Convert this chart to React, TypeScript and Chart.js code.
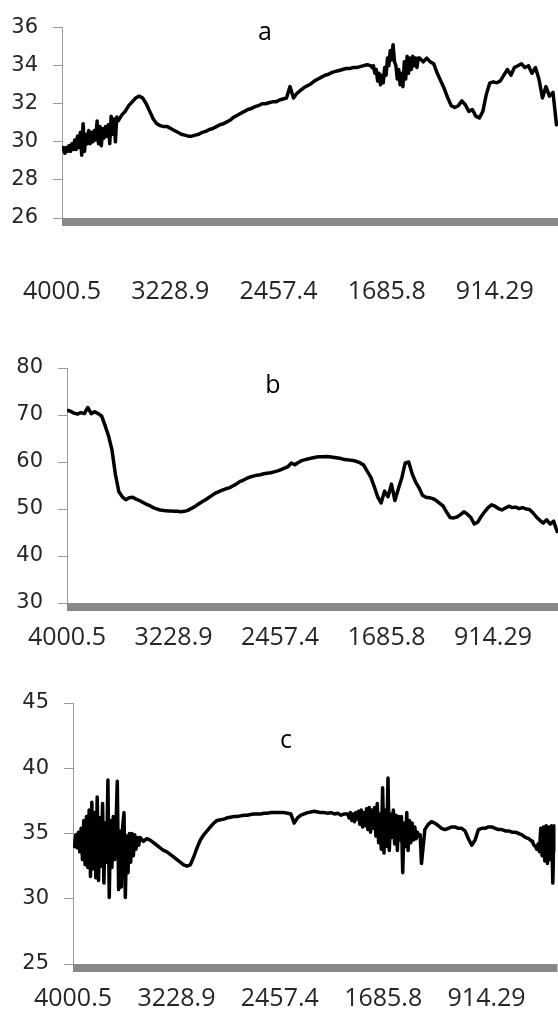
import React, { useEffect, useRef } from "react";
import { Chart, registerables } from "chart.js";

Chart.register(...registerables);

// ---------- Spectrum a ----------
const wavenumbersA = [
  4000, 3990, 3980, 3970, 3960, 3950, 3940, 3930, 3920, 3910, 3900, 3890, 3880, 3870, 3860, 3850,
  3840, 3830, 3820, 3810, 3800, 3790, 3780, 3770, 3760, 3750, 3740, 3730, 3720, 3710, 3700, 3690,
  3680, 3670, 3660, 3650, 3640, 3630, 3620, 3610,
  3600, 3575, 3550, 3525, 3500, 3475, 3450, 3425, 3400, 3375, 3350, 3325, 3300, 3275, 3250, 3225,
  3200, 3175, 3150, 3125, 3100, 3075, 3050, 3025, 3000, 2975, 2950, 2925, 2900, 2875, 2850, 2825,
  2800, 2775, 2750, 2725, 2700, 2675, 2650, 2625, 2600, 2575, 2550, 2525, 2500, 2475, 2450, 2425,
  2400, 2375, 2350, 2325, 2300, 2275, 2250, 2225, 2200, 2175, 2150, 2125, 2100, 2075, 2050, 2025,
  2000, 1975, 1950, 1925, 1900, 1875, 1850, 1825,
  1800, 1790, 1780, 1770, 1760, 1750, 1740, 1730, 1720, 1710, 1700, 1690, 1680, 1670, 1660, 1650,
  1640, 1630, 1620, 1610, 1600, 1590, 1580, 1570, 1560, 1550, 1540, 1530, 1520, 1510, 1500, 1490,
  1480, 1470, 1460,
  1450, 1425, 1400, 1375, 1350, 1325, 1300, 1275, 1250, 1225, 1200, 1175, 1150, 1125, 1100, 1075,
  1050, 1025, 1000, 975, 950, 925, 900, 875, 850, 825, 800, 775, 750, 725, 700, 675,
  650, 625, 600, 575, 550, 525, 500, 475, 450, 425, 400,
];
const seriesA = [
  29.5, 29.7, 29.4, 29.7, 29.5, 29.8, 29.5, 29.9, 29.6, 30.1,
  29.6, 30.3, 29.7, 30.5, 29.3, 30.95, 29.5, 30.4, 29.9, 30.6,
  29.9, 30.5, 30.0, 30.6, 30.1, 31.1, 29.9, 30.8, 29.8, 30.7,
  30.2, 30.8, 30.3, 30.9, 29.9, 31.35, 30.4, 31.2, 30.0, 31.3,
  31.1, 31.4, 31.6, 31.9,
  32.1, 32.3, 32.4, 32.3, 32.0, 31.6, 31.2, 30.95, 30.85, 30.8,
  30.8, 30.7, 30.6, 30.5, 30.4, 30.35, 30.3, 30.3, 30.35, 30.4,
  30.5, 30.55, 30.65, 30.7, 30.8, 30.9, 30.95, 31.05, 31.15, 31.3,
  31.4, 31.5, 31.6, 31.7, 31.75, 31.85, 31.9, 32.0, 32.0, 32.05,
  32.1, 32.1, 32.2, 32.25, 32.3, 32.9, 32.3, 32.55, 32.7, 32.85,
  32.95, 33.05, 33.2, 33.3, 33.4, 33.5, 33.55, 33.65, 33.7, 33.75,
  33.8, 33.85, 33.85, 33.9, 33.9, 33.95, 34.0, 34.05,
  34.0, 33.9, 34.0, 33.6, 33.8, 33.2, 33.6, 33.0, 33.5, 33.1,
  33.9, 33.5, 34.4, 34.0, 34.8, 34.3, 35.1, 34.2, 34.0, 33.3,
  33.8, 33.0, 33.6, 32.9, 34.2, 33.3, 34.5, 33.6, 34.4, 33.8,
  34.5, 34.0, 34.4, 33.9, 34.4,
  34.4, 34.2, 34.4, 34.2, 34.1, 33.6, 33.2, 32.8,
  32.3, 31.9, 31.8, 31.9, 32.15, 31.95, 31.6, 31.7, 31.35, 31.25,
  31.6, 32.5, 33.1, 33.15, 33.1, 33.2, 33.5, 33.8, 33.5, 33.9,
  34.0, 34.1, 33.9, 34.0, 33.6, 33.9, 33.3, 32.3, 32.9, 32.4,
  32.6, 30.9, 31.1, 31.0, 31.2,
];

// ---------- Spectrum b ----------
const wavenumbersB = [
  4000, 3975, 3950, 3925, 3900, 3875, 3850, 3825, 3800, 3775, 3750, 3725, 3700, 3675, 3650, 3625,
  3600, 3575, 3550, 3525, 3500, 3475, 3450, 3425, 3400, 3375, 3350, 3325, 3300, 3275, 3250, 3225,
  3200, 3175, 3150, 3125, 3100, 3075, 3050, 3025, 3000, 2975, 2950, 2925, 2900, 2875, 2850, 2825,
  2800, 2775, 2750, 2725, 2700, 2675, 2650, 2625, 2600, 2575, 2550, 2525, 2500, 2475, 2450, 2425,
  2400, 2375, 2350, 2325, 2300, 2275, 2250, 2225, 2200, 2175, 2150, 2125, 2100, 2075, 2050, 2025,
  2000, 1975, 1950, 1925, 1900, 1875, 1850, 1825, 1800, 1775, 1750, 1725, 1700, 1675, 1650, 1625,
  1600, 1575, 1550, 1525, 1500, 1475, 1450, 1425, 1400, 1375, 1350, 1325, 1300, 1275, 1250, 1225,
  1200, 1175, 1150, 1125, 1100, 1075, 1050, 1025, 1000, 975, 950, 925, 900, 875, 850, 825,
  800, 775, 750, 725, 700, 675, 650, 625, 600, 575, 550, 525, 500, 475, 450, 425, 400,
];
const seriesB = [
  71.0, 70.8, 70.4, 70.2, 70.5, 70.3, 71.6, 70.3, 70.7, 70.3,
  69.8, 67.8, 65.6, 62.6, 57.4, 53.7, 52.6, 52.0, 52.4, 52.5,
  52.1, 51.8, 51.4, 51.0, 50.7, 50.3, 50.0, 49.8, 49.7, 49.6,
  49.6, 49.5, 49.5, 49.4, 49.5, 49.7, 50.1, 50.5, 51.0, 51.5,
  51.9, 52.4, 52.9, 53.4, 53.7, 54.0, 54.3, 54.5, 54.9, 55.3,
  55.8, 56.1, 56.5, 56.8, 57.0, 57.2, 57.3, 57.5, 57.6, 57.7,
  57.9, 58.1, 58.4, 58.7, 59.0, 59.8, 59.4, 59.9, 60.3, 60.5,
  60.7, 60.85, 61.0, 61.1, 61.1, 61.15, 61.1, 61.0, 60.9, 60.8,
  60.6, 60.5, 60.4, 60.3, 60.1, 59.8, 59.3, 58.0, 56.8, 54.8,
  52.6, 51.3, 53.8, 52.6, 55.3, 51.8, 54.3, 56.6, 59.8, 60.0,
  57.5, 55.7, 54.5, 52.9, 52.5, 52.4, 52.2, 51.8, 51.2, 50.6,
  49.3, 48.2, 48.1, 48.3, 48.8, 49.4, 48.9, 48.2, 46.8, 47.2,
  48.4, 49.4, 50.3, 50.9, 50.6, 50.1, 49.8, 50.2, 50.6, 50.3,
  50.4, 50.1, 50.3, 50.0, 49.9, 49.2, 48.3, 47.6, 47.0, 47.7,
  46.8, 47.4, 45.2, 45.6, 45.3,
];

// ---------- Spectrum c ----------
const wavenumbersC = [
  4000, 3990, 3980, 3970, 3960, 3950, 3940, 3930, 3920, 3910, 3900, 3890, 3880, 3870, 3860, 3850,
  3840, 3830, 3820, 3810, 3800, 3790, 3780, 3770, 3760, 3750, 3740, 3730, 3720, 3710, 3700, 3690,
  3680, 3670, 3660, 3650, 3640, 3630, 3620, 3610, 3600, 3590, 3580, 3570, 3560, 3550, 3540, 3530,
  3520, 3510,
  3500, 3475, 3450, 3425, 3400, 3375, 3350, 3325, 3300, 3275, 3250, 3225, 3200, 3175, 3150, 3125,
  3100, 3075, 3050, 3025, 3000, 2975, 2950, 2925, 2900, 2875, 2850, 2825, 2800, 2775, 2750, 2725,
  2700, 2675, 2650, 2625, 2600, 2575, 2550, 2525, 2500, 2475, 2450, 2425, 2400, 2375, 2350, 2325,
  2300, 2275, 2250, 2225, 2200, 2175, 2150, 2125, 2100, 2075, 2050, 2025, 2000, 1975,
  1950, 1940, 1930, 1920, 1910, 1900, 1890, 1880, 1870, 1860, 1850, 1840, 1830, 1820, 1810, 1800,
  1790, 1780, 1770, 1760, 1750, 1740, 1730, 1720, 1710, 1700, 1690, 1680, 1670, 1660, 1650, 1640,
  1630, 1620, 1610, 1600, 1590, 1580, 1570, 1560, 1550, 1540, 1530, 1520, 1510, 1500, 1490, 1480,
  1470, 1460, 1450, 1440, 1430, 1420, 1410, 1400,
  1375, 1350, 1325, 1300, 1275, 1250, 1225, 1200, 1175, 1150, 1125, 1100, 1075, 1050, 1025, 1000,
  975, 950, 925, 900, 875, 850, 825, 800, 775, 750, 725, 700, 675, 650, 625, 600, 575,
  570, 560, 550, 540, 530, 520, 510, 500, 490, 480, 470, 460, 450, 440, 430, 420, 410, 400,
];
const seriesC = [
  34.3, 34.0, 34.9, 33.9, 35.1, 33.6, 35.4, 33.0, 36.0, 32.6,
  36.3, 32.4, 36.8, 31.7, 37.4, 32.3, 36.6, 31.6, 37.8, 31.4,
  36.2, 32.5, 37.3, 31.2, 35.8, 32.8, 39.1, 30.1, 36.0, 32.4,
  36.3, 33.0, 35.5, 39.0, 30.7, 35.2, 30.9, 35.5, 36.6, 30.1,
  34.8, 32.0, 35.0, 32.8, 35.0, 33.3, 34.9, 33.8, 34.7, 34.1,
  34.7, 34.4, 34.6, 34.5, 34.3, 34.1, 33.9, 33.7, 33.6, 33.4,
  33.2, 33.0, 32.8, 32.6, 32.5, 32.6, 33.2, 33.9, 34.5, 34.9,
  35.2, 35.5, 35.8, 36.0, 36.05, 36.1, 36.2, 36.25, 36.3, 36.3,
  36.35, 36.4, 36.4, 36.45, 36.5, 36.5, 36.5, 36.55, 36.55, 36.6,
  36.6, 36.6, 36.6, 36.6, 36.55, 36.5, 35.8, 36.2, 36.4, 36.5,
  36.6, 36.65, 36.7, 36.65, 36.6, 36.6, 36.55, 36.6, 36.5, 36.55,
  36.4, 36.5,
  36.5, 36.2, 36.6, 36.0, 36.5, 35.9, 36.6, 36.1, 36.7, 35.7,
  36.8, 35.5, 36.6, 35.6, 36.9, 35.3, 37.0, 35.1, 36.8, 35.4,
  37.0, 34.8, 37.3, 34.3, 36.5, 33.8, 38.5, 33.5, 36.8, 34.0,
  39.25, 33.7, 36.5, 34.7, 36.8, 34.2, 36.4, 33.7, 36.3, 34.5,
  36.3, 32.0, 35.8, 34.0, 36.6, 33.7, 36.0, 34.3, 35.8, 34.5,
  35.5, 34.6, 35.1, 34.8, 34.9, 32.7,
  35.3, 35.7, 35.9, 35.8, 35.6,
  35.4, 35.3, 35.4, 35.5, 35.5, 35.4, 35.4, 35.2, 34.6, 34.1,
  34.5, 35.3, 35.4, 35.4, 35.5, 35.5, 35.4, 35.3, 35.3, 35.2,
  35.2, 35.1, 35.1, 35.0, 34.9, 34.7, 34.6, 34.4,
  34.3, 34.1, 34.0, 33.8, 34.2, 33.6, 35.4, 33.3, 35.5, 32.9,
  35.6, 32.7, 35.5, 33.0, 35.6, 31.2, 35.6, 33.6,
];

const xTickValues = [4000.5, 3228.9, 2457.4, 1685.8, 914.29];
const xTickLabels = ["4000.5", "3228.9", "2457.4", "1685.8", "914.29"];
const panelLetters = ["a", "b", "c"];
const yMins = [26, 30, 25];
const yMaxs = [36, 80, 45];
const ySteps = [2, 10, 5];

// Layout (pixels) for each panel
const panelLayouts = [
  { top: 0, height: 330, axisLeft: 62, plotTop: 20, plotBottom: 218, plotRight: 567, labelGap: 59, letterX: 265, letterY: 40 },
  { top: 330, height: 340, axisLeft: 67, plotTop: 38, plotBottom: 273, plotRight: 564, labelGap: 20, letterX: 273, letterY: 63 },
  { top: 670, height: 340, axisLeft: 73, plotTop: 33, plotBottom: 294, plotRight: 555.5, labelGap: 20, letterX: 286, letterY: 78 },
];

const CANVAS_W = 600;

const decorPlugin = {
  id: "decor",
  afterDraw(chart: any, _args: any, opts: any) {
    const { ctx, chartArea } = chart;
    ctx.save();
    ctx.fillStyle = "#888888";
    ctx.fillRect(chartArea.left, chartArea.bottom, chartArea.right - chartArea.left + 2, 8);
    ctx.fillStyle = "#000000";
    ctx.font = '25px "Open Sans"';
    ctx.textAlign = "center";
    ctx.textBaseline = "alphabetic";
    ctx.fillText(opts.letter, opts.x, opts.y);
    ctx.restore();
  },
};

function Panel({ index, xs, values }: { index: number; xs: number[]; values: number[] }) {
  const ref = useRef<HTMLCanvasElement | null>(null);
  const lay = panelLayouts[index];
  useEffect(() => {
    if (!ref.current) return;
    const chart = new Chart(ref.current, {
      type: "line",
      data: {
        datasets: [
          {
            data: xs.map((w, i) => ({ x: w, y: values[i] })),
            borderColor: "#000000",
            borderWidth: 3.5,
            pointRadius: 0,
            fill: false,
            tension: 0,
            borderJoinStyle: "round",
          },
        ],
      },
      options: {
        animation: false,
        responsive: false,
        devicePixelRatio: 1,
        layout: {
          padding: { left: 0, top: lay.plotTop, right: CANVAS_W - lay.plotRight, bottom: 0 },
        },
        plugins: {
          legend: { display: false },
          tooltip: { enabled: false },
          decor: { letter: panelLetters[index], x: lay.letterX, y: lay.letterY },
        } as any,
        scales: {
          x: {
            type: "linear",
            reverse: true,
            min: 400,
            max: 4000.5,
            afterBuildTicks: (s: any) => {
              s.ticks = xTickValues.map((v) => ({ value: v }));
            },
            afterFit: (s: any) => {
              s.height = lay.height - lay.plotBottom;
            },
            grid: { display: false, drawTicks: true, tickLength: lay.labelGap },
            border: { display: false },
            ticks: {
              autoSkip: false,
              maxRotation: 0,
              minRotation: 0,
              padding: 0,
              color: "#262626",
              font: { family: '"Open Sans"', size: 25 },
              callback: (_v: any, i: number) => xTickLabels[i],
            },
          },
          y: {
            min: yMins[index],
            max: yMaxs[index],
            afterFit: (s: any) => {
              s.width = lay.axisLeft;
            },
            grid: { drawOnChartArea: false, drawTicks: true, tickLength: 9, color: "#9a9a9a", lineWidth: 1 },
            border: { display: true, color: "#9a9a9a", width: 1 },
            ticks: {
              stepSize: ySteps[index],
              padding: 15,
              color: "#262626",
              font: { family: '"DejaVu Sans"', size: 21 },
            },
          },
        },
      },
      plugins: [decorPlugin as any],
    } as any);
    return () => chart.destroy();
  }, []);
  return (
    <canvas
      ref={ref}
      width={CANVAS_W}
      height={lay.height}
      style={{ position: "absolute", left: 0, top: lay.top, width: CANVAS_W, height: lay.height }}
    />
  );
}

export default function App() {
  return (
    <div
      style={{
        position: "fixed",
        left: 0,
        top: 0,
        width: 558,
        height: 1010,
        overflow: "hidden",
        background: "#ffffff",
      }}
    >
      <Panel index={0} xs={wavenumbersA} values={seriesA} />
      <Panel index={1} xs={wavenumbersB} values={seriesB} />
      <Panel index={2} xs={wavenumbersC} values={seriesC} />
    </div>
  );
}
